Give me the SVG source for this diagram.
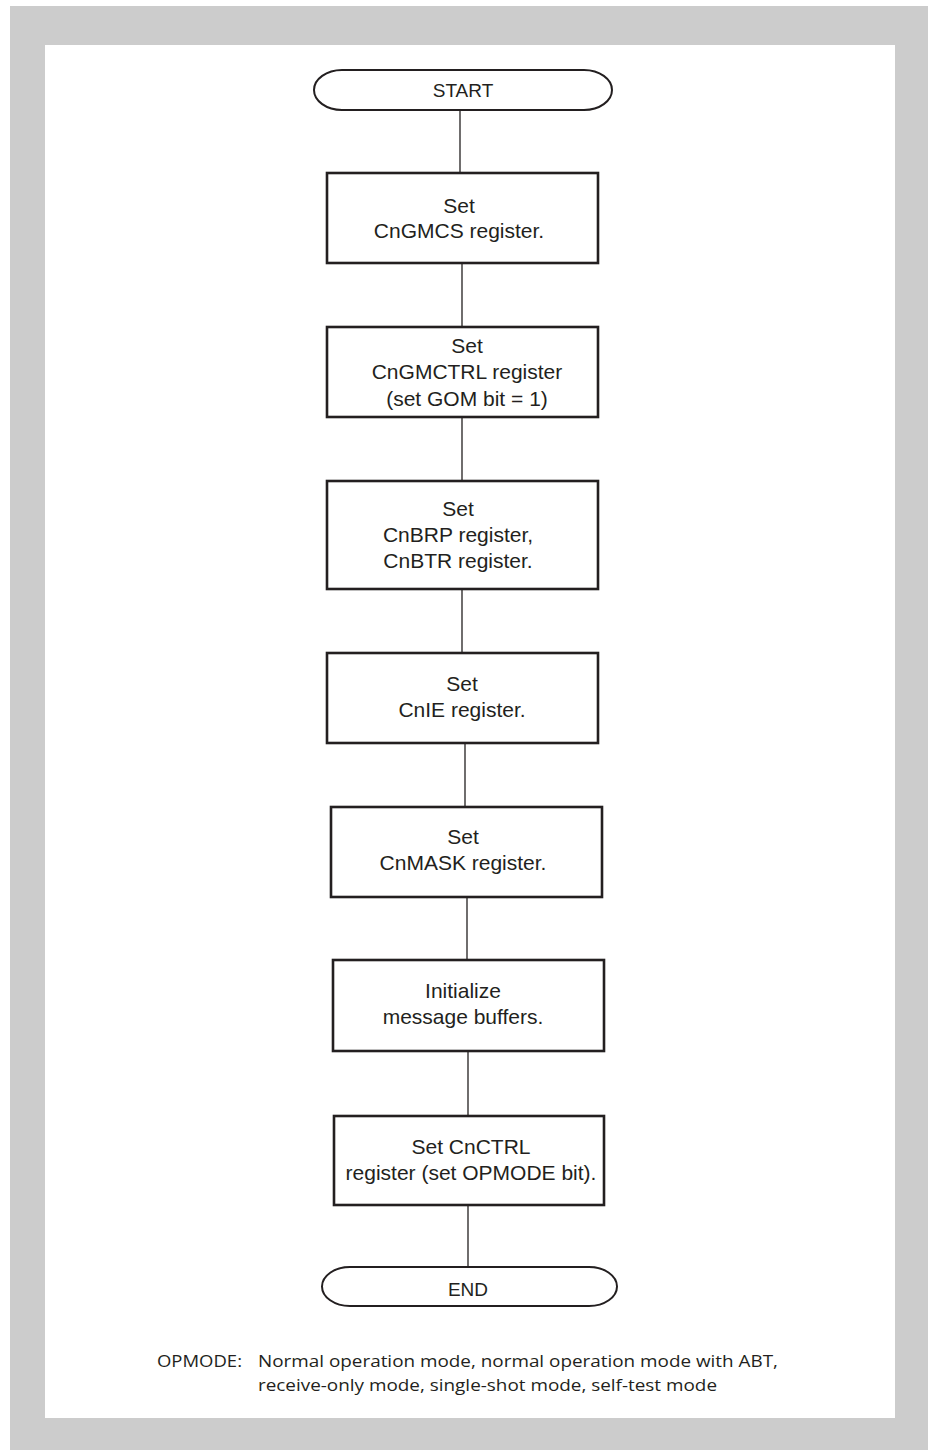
<svg xmlns="http://www.w3.org/2000/svg" width="928" height="1450" viewBox="0 0 928 1450">
<style>
.box{fill:#fff;stroke:#231f20;stroke-width:2.6}
.term{fill:#fff;stroke:#231f20;stroke-width:2}
.lbl{font-family:"Liberation Sans",Arial,sans-serif;font-size:21px;fill:#231f20;text-anchor:middle}
.tl{font-family:"Liberation Sans",Arial,sans-serif;font-size:19px;fill:#231f20;text-anchor:middle}
.conn line{stroke:#231f20;stroke-width:1.3}
.note{font-family:"Open Sans","Noto Sans",sans-serif;font-size:17px;fill:#231f20}
</style>
<rect x="10" y="6" width="918" height="1444" fill="#cccccc"/>
<rect x="45" y="45" width="850" height="1373" fill="#ffffff"/>
<g id="connectors" class="conn">
<line x1="460" y1="110" x2="460" y2="173"/>
<line x1="462" y1="263" x2="462" y2="327"/>
<line x1="462" y1="417" x2="462" y2="481"/>
<line x1="462" y1="589" x2="462" y2="653"/>
<line x1="465" y1="743" x2="465" y2="807"/>
<line x1="467" y1="897" x2="467" y2="960"/>
<line x1="468" y1="1051" x2="468" y2="1116"/>
<line x1="468" y1="1205" x2="468" y2="1267"/>
</g>
<g id="start">
<rect class="term" x="314" y="70" width="298" height="40" rx="28" ry="20"/>
<text class="tl" x="463" y="97">START</text>
</g>
<g id="set-cngmcs">
<rect class="box" x="327" y="173" width="271" height="90"/>
<text class="lbl" x="459" y="213">Set</text>
<text class="lbl" x="459" y="238">CnGMCS register.</text>
</g>
<g id="set-cngmctrl">
<rect class="box" x="327" y="327" width="271" height="90"/>
<text class="lbl" x="467" y="353">Set</text>
<text class="lbl" x="467" y="379">CnGMCTRL register</text>
<text class="lbl" x="467" y="406">(set GOM bit = 1)</text>
</g>
<g id="set-cnbrp">
<rect class="box" x="327" y="481" width="271" height="108"/>
<text class="lbl" x="458" y="516">Set</text>
<text class="lbl" x="458" y="542">CnBRP register,</text>
<text class="lbl" x="458" y="568">CnBTR register.</text>
</g>
<g id="set-cnie">
<rect class="box" x="327" y="653" width="271" height="90"/>
<text class="lbl" x="462" y="691">Set</text>
<text class="lbl" x="462" y="717">CnIE register.</text>
</g>
<g id="set-cnmask">
<rect class="box" x="331" y="807" width="271" height="90"/>
<text class="lbl" x="463" y="844">Set</text>
<text class="lbl" x="463" y="870">CnMASK register.</text>
</g>
<g id="init-buffers">
<rect class="box" x="333" y="960" width="271" height="91"/>
<text class="lbl" x="463" y="998">Initialize</text>
<text class="lbl" x="463" y="1024">message buffers.</text>
</g>
<g id="set-cnctrl">
<rect class="box" x="334" y="1116" width="270" height="89"/>
<text class="lbl" x="471" y="1154">Set CnCTRL</text>
<text class="lbl" x="471" y="1180">register (set OPMODE bit).</text>
</g>
<g id="end">
<rect class="term" x="322" y="1267" width="295" height="39" rx="28" ry="19.5"/>
<text class="tl" x="468" y="1296">END</text>
</g>
<g id="note">
<text class="note" x="157" y="1367" textLength="85" lengthAdjust="spacingAndGlyphs">OPMODE:</text>
<text class="note" x="258" y="1367" textLength="520" lengthAdjust="spacingAndGlyphs">Normal operation mode, normal operation mode with ABT,</text>
<text class="note" x="258" y="1391" textLength="459" lengthAdjust="spacingAndGlyphs">receive-only mode, single-shot mode, self-test mode</text>
</g>
</svg>
